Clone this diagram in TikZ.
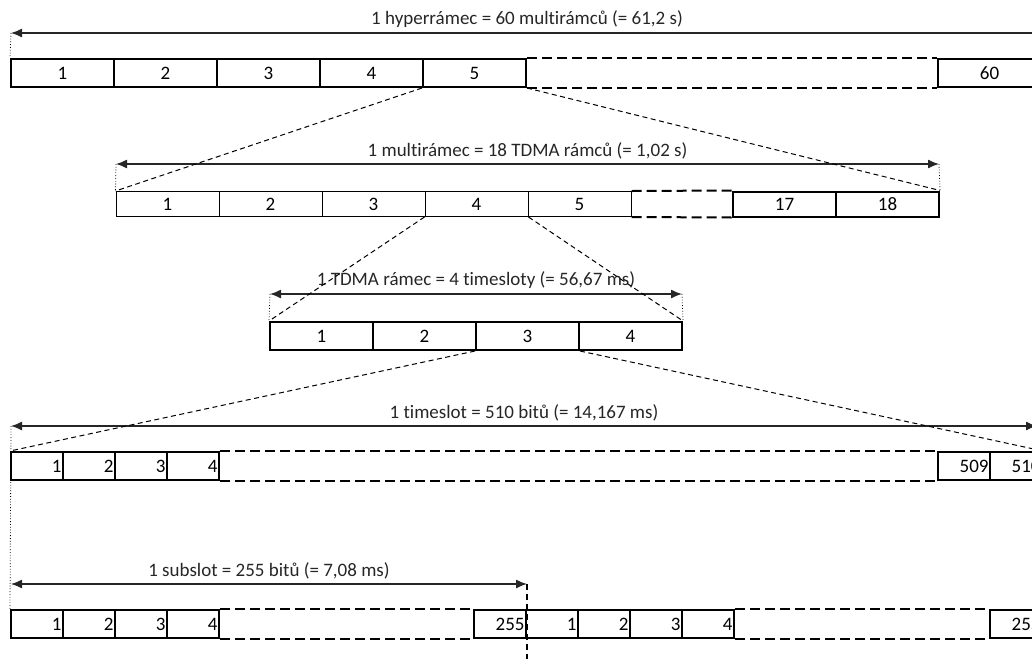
\documentclass[tikz,border=0pt]{standalone}
\usepackage{fontspec}
\setmainfont[Ligatures=NoCommon]{Carlito}
\usetikzlibrary{arrows.meta}
\begin{document}
\begin{tikzpicture}[x=1pt,y=-1pt,
	slot/.style={draw=black,line width=2pt,minimum width=103pt,minimum height=28pt,inner sep=0pt,font=\fontsize{19}{22}\selectfont},
	thinslot/.style={slot,line width=1pt,minimum height=25pt},
	bitslot/.style={slot,minimum width=52pt,text width=49pt,inner xsep=1.5pt,align=right},
	gapline/.style={draw,line width=2pt,dash pattern=on 10pt off 5pt},
	zoomline/.style={draw,line width=1pt,dash pattern=on 5pt off 3.5pt},
	cutline/.style={draw,line width=2pt,dash pattern=on 6pt off 4pt},
	dimline/.style={draw,line width=1.3pt,black!85,{Latex[length=11pt,width=9pt]}-{Latex[length=11pt,width=9pt]}},
	tickline/.style={draw,line width=0.8pt,dotted},
	dimlabel/.style={midway,above=1pt,font=\fontsize{19}{22}\selectfont}]
			\useasboundingbox (0,0) rectangle (1032,659);
			\clip (0,0) rectangle (1032,659);
			
			% hyperramec
			\node[slot] (h1) at (62.5,73) {1};
			\node[slot] (h2) at (165.5,73) {2};
			\node[slot] (h3) at (268.5,73) {3};
			\node[slot] (h4) at (371.5,73) {4};
			\node[slot] (h5) at (474.5,73) {5};
			\node[slot] (h60) at (989.5,73) {60};
			\path[gapline] (h5.north east) -- (h60.north west);
			\path[gapline] (h5.south east) -- (h60.south west);
			\coordinate (hl) at (11,33);
			\coordinate (hr) at (1043,33);
			\path[dimline] (hl) -- (hr) node[dimlabel] {1 hyperrámec = 60 multirámců (= 61,2 s)};
			\path[tickline] (hl) -- (h1.north west);
			
			% multiramec
			\node[thinslot] (m1) at (167.5,204) {1};
			\node[thinslot] (m2) at (270.5,204) {2};
			\node[thinslot] (m3) at (373.5,204) {3};
			\node[thinslot] (m4) at (476.5,204) {4};
			\node[thinslot] (m5) at (579.5,204) {5};
			\node[slot,minimum height=25pt] (m17) at (784.5,204) {17};
			\node[slot,minimum height=25pt] (m18) at (887.5,204) {18};
			\path[gapline] (m5.north east) -- (m17.north west);
			\path[gapline] (m5.south east) -- (m17.south west);
			\coordinate (ml) at (116,164);
			\coordinate (mr) at (939,164);
			\path[dimline] (ml) -- (mr) node[dimlabel] {1 multirámec = 18 TDMA rámců (= 1,02 s)};
			\path[tickline] (ml) -- (m1.north west);
			\path[tickline] (mr) -- (m18.north east);
			\path[zoomline] (h5.south west) -- (m1.north west);
			\path[zoomline] (h5.south east) -- (m18.north east);
			
			% TDMA ramec
			\node[slot] (r1) at (321.5,336) {1};
			\node[slot] (r2) at (424.5,336) {2};
			\node[slot] (r3) at (527.5,336) {3};
			\node[slot] (r4) at (630.5,336) {4};
			\coordinate (rl) at (270,294);
			\coordinate (rr) at (682,294);
			\path[dimline] (rl) -- (rr) node[dimlabel] {1 TDMA rámec = 4 timesloty (= 56,67 ms)};
			\path[tickline] (rl) -- (r1.north west);
			\path[tickline] (rr) -- (r4.north east);
			\path[zoomline] (m4.south west) -- (r1.north west);
			\path[zoomline] (m4.south east) -- (r4.north east);
			
			% timeslot
			\node[bitslot] (t1) at (37,466) {1};
			\node[bitslot] (t2) at (89,466) {2};
			\node[bitslot] (t3) at (141,466) {3};
			\node[bitslot] (t4) at (193,466) {4};
			\node[bitslot] (t509) at (964,466) {509};
			\node[bitslot] (t510) at (1016,466) {510};
			\path[gapline] (t4.north east) -- (t509.north west);
			\path[gapline] (t4.south east) -- (t509.south west);
			\coordinate (tl) at (11,426);
			\coordinate (tr) at (1037,426);
			\path[dimline] (tl) -- (tr) node[dimlabel] {1 timeslot = 510 bitů (= 14,167 ms)};
			\path[zoomline] (r3.south west) -- (t1.north west);
			\path[zoomline] (r3.south east) -- (t510.north east);
			
			% subsloty
			\node[bitslot] (s1) at (37,624) {1};
			\node[bitslot] (s2) at (89,624) {2};
			\node[bitslot] (s3) at (141,624) {3};
			\node[bitslot] (s4) at (193,624) {4};
			\node[bitslot] (s255) at (500,624) {255};
			\node[bitslot] (u1) at (552,624) {1};
			\node[bitslot] (u2) at (604,624) {2};
			\node[bitslot] (u3) at (656,624) {3};
			\node[bitslot] (u4) at (708,624) {4};
			\node[bitslot] (u255) at (1016,624) {255};
			\path[gapline] (s4.north east) -- (s255.north west);
			\path[gapline] (s4.south east) -- (s255.south west);
			\path[gapline] (u4.north east) -- (u255.north west);
			\path[gapline] (u4.south east) -- (u255.south west);
			\coordinate (sl) at (11,584);
			\coordinate (sr) at (527,584);
			\coordinate (cut) at (527,659);
			\path[dimline] (sl) -- (sr) node[dimlabel] {1 subslot = 255 bitů (= 7,08 ms)};
			\path[tickline] (tl) -- (s1.north west);
			\path[cutline] (sr) -- (cut);
			
\end{tikzpicture}
\end{document}
